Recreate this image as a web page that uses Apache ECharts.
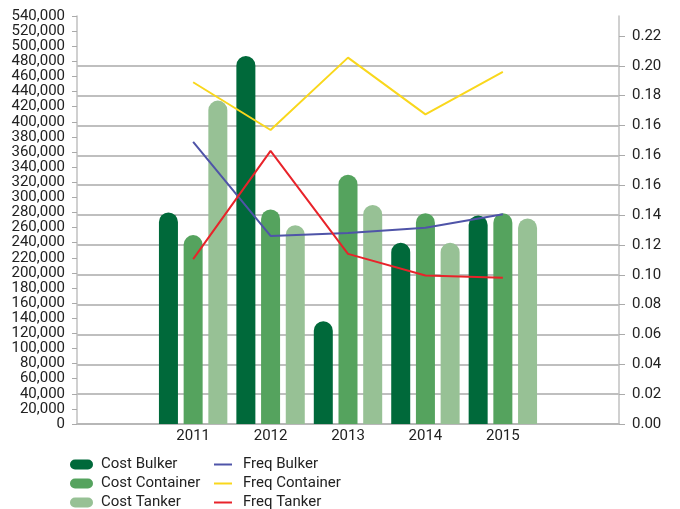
<!DOCTYPE html>
<html>
<head>
<meta charset="utf-8">
<script src="https://cdn.jsdelivr.net/npm/echarts@6/dist/echarts.min.js"></script>
<style>
  html, body { margin: 0; padding: 0; background: #fff; }
  #chart { width: 680px; height: 509px; }
</style>
</head>
<body>
<div id="chart"></div>
<script>
// Years shown on the x axis
const years = ['2011', '2012', '2013', '2014', '2015'];

// Cost per vessel type (left axis)
const costBulker = [280000, 487000, 136000, 240000, 276000];
const costContainer = [250000, 284000, 330000, 279000, 279000];
const costTanker = [428000, 263000, 290000, 240000, 272000];

// Frequency per vessel type (right axis)
const freqBulker = [0.189, 0.126, 0.128, 0.1315, 0.1405];
const freqContainer = [0.229, 0.197, 0.2455, 0.2075, 0.236];
const freqTanker = [0.1105, 0.183, 0.114, 0.0995, 0.098];

// Right axis tick labels, bottom to top
const freqTickLabels = ['0.00', '0.02', '0.04', '0.06', '0.08', '0.10', '0.12', '0.14',
  '0.16', '0.16', '0.16', '0.18', '0.20', '0.22'];

const FONT = 'Roboto';
const TEXT = '#222';
const FS = 15;

// One empty slot either side of the years
const pad = arr => [null].concat(arr, [null]);
const categories = [''].concat(years, ['']);

const freqStep = 0.02;
const freqTicks = freqTickLabels.map((_, i) => +(i * freqStep).toFixed(2));

const chart = echarts.init(document.getElementById('chart'), null, { renderer: 'canvas' });

const barStyle = color => ({ color: color, borderRadius: [9.5, 9.5, 0, 0] });

chart.setOption({
  animation: false,
  grid: { left: 77, right: 61, top: 16, bottom: 85, containLabel: false },
  legend: [
    {
      orient: 'vertical', left: 65, top: 452, height: 80, itemGap: 4,
      itemWidth: 23, itemHeight: 10,
      icon: 'path://M5,0 L18,0 A5,5 0 0 1 18,10 L5,10 A5,5 0 0 1 5,0 Z',
      textStyle: { fontFamily: FONT, fontSize: FS, color: TEXT, padding: [0, 0, 0, 3] },
      data: ['Cost Bulker', 'Cost Container', 'Cost Tanker']
    },
    {
      orient: 'vertical', left: 209, top: 452, height: 80, itemGap: 4,
      itemWidth: 18, itemHeight: 2, icon: 'rect',
      textStyle: { fontFamily: FONT, fontSize: FS, color: TEXT, padding: [0, 0, 0, 6] },
      data: ['Freq Bulker', 'Freq Container', 'Freq Tanker']
    }
  ],
  xAxis: {
    type: 'category',
    data: categories,
    axisLine: { show: true, lineStyle: { color: '#b5b5b5', width: 1.5 } },
    axisTick: { show: false },
    axisLabel: { fontFamily: FONT, fontSize: FS, color: TEXT, margin: 5 },
    splitLine: { show: false }
  },
  yAxis: [
    {
      type: 'value', position: 'left',
      min: 0, max: 540000, interval: 20000,
      axisLine: { show: true, lineStyle: { color: '#c0c0c0', width: 1.5 } },
      axisTick: { show: true, length: 5, lineStyle: { color: '#aaa' } },
      axisLabel: {
        fontFamily: FONT, fontSize: FS, color: TEXT, margin: 12,
        formatter: v => v.toLocaleString('en-US')
      },
      splitLine: { show: false }
    },
    {
      type: 'value', position: 'right',
      min: 0, max: 0.2734, interval: freqStep,
      axisLine: { show: true, lineStyle: { color: '#c0c0c0', width: 1.5 } },
      axisTick: { show: true, length: 6, lineStyle: { color: '#aaa' }, customValues: freqTicks },
      axisLabel: {
        fontFamily: FONT, fontSize: FS, color: TEXT, margin: 13,
        customValues: freqTicks,
        formatter: v => {
          const i = Math.round(v / freqStep);
          return i < freqTickLabels.length ? freqTickLabels[i] : '';
        }
      },
      splitLine: { show: true, showMaxLine: false, lineStyle: { color: '#aaa', width: 1.5 } }
    }
  ],
  series: [
    { name: 'Cost Bulker', type: 'bar', yAxisIndex: 0, data: pad(costBulker),
      barWidth: 19, barGap: '30%', itemStyle: barStyle('#00693a') },
    { name: 'Cost Container', type: 'bar', yAxisIndex: 0, data: pad(costContainer),
      barWidth: 19, barGap: '30%', itemStyle: barStyle('#55a35e') },
    { name: 'Cost Tanker', type: 'bar', yAxisIndex: 0, data: pad(costTanker),
      barWidth: 19, barGap: '30%', itemStyle: barStyle('#97c195') },
    { name: 'Freq Bulker', type: 'line', yAxisIndex: 1, data: pad(freqBulker),
      showSymbol: false, symbol: 'none', lineStyle: { color: '#4f54a8', width: 2 },
      itemStyle: { color: '#4f54a8' } },
    { name: 'Freq Container', type: 'line', yAxisIndex: 1, data: pad(freqContainer),
      showSymbol: false, symbol: 'none', lineStyle: { color: '#f9d71c', width: 2 },
      itemStyle: { color: '#f9d71c' } },
    { name: 'Freq Tanker', type: 'line', yAxisIndex: 1, data: pad(freqTanker),
      showSymbol: false, symbol: 'none', lineStyle: { color: '#e8232a', width: 2 },
      itemStyle: { color: '#e8232a' } }
  ]
});
</script>
</body>
</html>
